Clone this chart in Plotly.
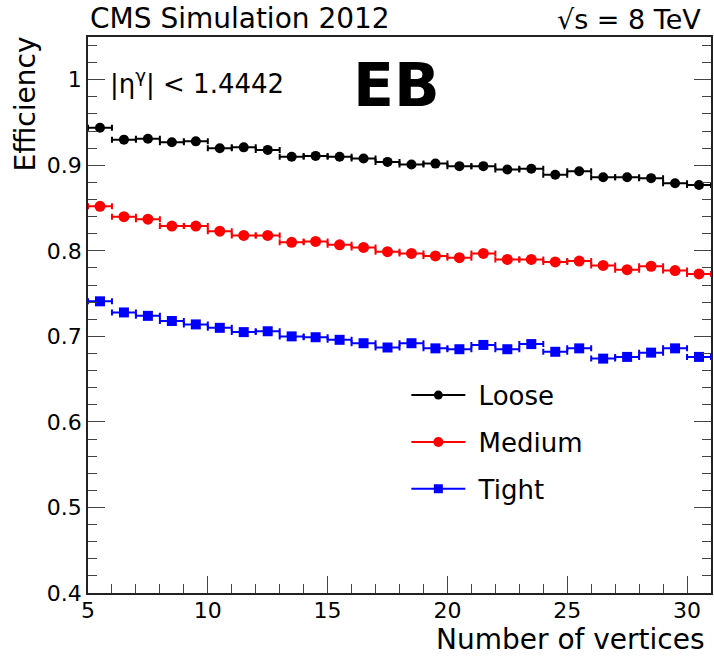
import plotly.graph_objects as go

# ---- data ----
vertices = [5.5, 6.5, 7.5, 8.5, 9.5, 10.5, 11.5, 12.5, 13.5, 14.5, 15.5, 16.5, 17.5,
            18.5, 19.5, 20.5, 21.5, 22.5, 23.5, 24.5, 25.5, 26.5, 27.5, 28.5, 29.5, 30.5]
loose = [0.944, 0.930, 0.931, 0.927, 0.928, 0.920, 0.921, 0.918, 0.910, 0.911, 0.910, 0.908, 0.904,
         0.901, 0.902, 0.899, 0.899, 0.895, 0.896, 0.889, 0.893, 0.886, 0.886, 0.885, 0.879, 0.877]
medium = [0.852, 0.840, 0.837, 0.829, 0.829, 0.823, 0.818, 0.818, 0.810, 0.811, 0.807, 0.804, 0.799,
          0.797, 0.794, 0.792, 0.797, 0.790, 0.790, 0.787, 0.788, 0.783, 0.778, 0.782, 0.777, 0.773]
tight = [0.741, 0.728, 0.724, 0.718, 0.714, 0.710, 0.705, 0.706, 0.700, 0.699, 0.696, 0.692, 0.687,
         0.692, 0.686, 0.685, 0.690, 0.685, 0.691, 0.682, 0.686, 0.674, 0.676, 0.681, 0.686, 0.676]
bin_half_width = 0.5

series_names = ["Loose", "Medium", "Tight"]
series_values = [loose, medium, tight]
series_colors = ["#000000", "#ff0000", "#0000ff"]
series_symbols = ["circle", "circle", "square"]
series_sizes = [10, 11, 10]

FONT = "DejaVu Sans"

fig = go.Figure()
for name, vals, col, sym, sz in zip(series_names, series_values, series_colors, series_symbols, series_sizes):
    fig.add_trace(go.Scatter(
        x=vertices, y=vals, mode="markers", showlegend=False,
        marker=dict(color=col, symbol=sym, size=sz),
        error_x=dict(type="constant", value=bin_half_width, color=col, thickness=2, width=3),
    ))
for i, (name, col, sym, sz) in enumerate(zip(series_names, series_colors, series_symbols, series_sizes)):
    fig.add_trace(go.Scatter(
        x=[None], y=[None], mode="lines+markers", name=" " + name, legendgroup=name,
        line=dict(color=col, width=2), marker=dict(color=col, symbol=sym, size=sz - 1),
    ))

axis_common = dict(showline=True, linecolor="#222", linewidth=1.5, showgrid=False, zeroline=False,
                   ticks="inside", ticklen=17, tickwidth=1, tickcolor="#444",
                   tickfont=dict(family=FONT, size=22, color="black"))

fig.update_xaxes(range=[5, 31], tick0=5, dtick=5, mirror=True, ticklabelstandoff=-3,
                 minor=dict(dtick=1, ticks="inside", ticklen=9, tickcolor="#444", showgrid=False),
                 **axis_common)
fig.update_yaxes(range=[0.4, 1.05], tick0=0.4, dtick=0.1, mirror="ticks",
                 minor=dict(dtick=0.02, ticks="inside", ticklen=9, tickcolor="#444", showgrid=False),
                 **axis_common)

ann = [
    dict(text="CMS Simulation 2012", x=0, y=1, xref="paper", yref="paper", xanchor="left",
         yanchor="bottom", xshift=0, yshift=0, showarrow=False, font=dict(family=FONT, size=28, color="black")),
    dict(text="√s = 8 TeV", x=1, y=1, xref="paper", yref="paper", xanchor="right",
         yanchor="bottom", xshift=-8, yshift=0, showarrow=False, font=dict(family=FONT, size=27, color="black")),
    dict(text="|η<sup>γ</sup>| < 1.4442", x=0.032, y=0.919, xref="paper", yref="paper", xanchor="left",
         yanchor="middle", showarrow=False, font=dict(family=FONT, size=26, color="black")),
    dict(text="<b>EB</b>", x=0.4944, y=0.9137, xref="paper", yref="paper", xanchor="center",
         yanchor="middle", showarrow=False, font=dict(family=FONT, size=60, color="black")),
    dict(text="Number of vertices", x=1, y=-0.1151, xref="paper", yref="paper", xanchor="right",
         yanchor="bottom", xshift=-5, borderpad=0, showarrow=False, font=dict(family=FONT, size=28, color="black")),
    dict(text="Efficiency", x=-0.1, y=0.880, xref="paper", yref="paper", xanchor="center",
         yanchor="middle", textangle=-90, showarrow=False, font=dict(family=FONT, size=28, color="black")),
]

fig.update_layout(
    width=714, height=657,
    margin=dict(l=88, r=1, t=37, b=64),
    paper_bgcolor="white", plot_bgcolor="white",
    annotations=ann,
    legend=dict(x=0.511, y=0.398, xanchor="left", yanchor="top", bgcolor="rgba(0,0,0,0)",
                font=dict(family=FONT, size=26, color="black"), itemwidth=54,
                tracegroupgap=10, traceorder="grouped"),
)

fig.write_html("out.html")
